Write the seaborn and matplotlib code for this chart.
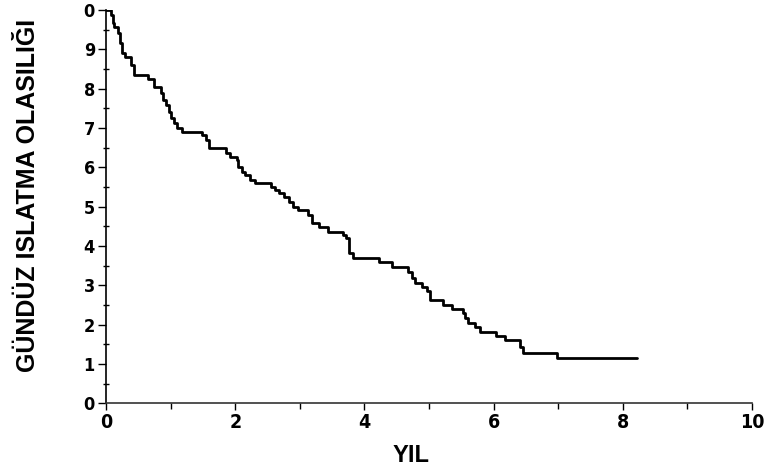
import numpy as np
import pandas as pd
import matplotlib
matplotlib.use("Agg")
import matplotlib.pyplot as plt
from matplotlib import font_manager
import seaborn as sns

# step-curve: event time (years) and level after the step
years = [0.00, 0.08, 0.11, 0.13, 0.19, 0.22, 0.25, 0.29, 0.39, 0.43,
         0.65, 0.75, 0.85, 0.88, 0.93, 0.98, 1.01, 1.05, 1.10, 1.17,
         1.48, 1.55, 1.60, 1.86, 1.92, 2.02, 2.04, 2.10, 2.15, 2.23,
         2.30, 2.56, 2.61, 2.68, 2.76, 2.84, 2.90, 2.97, 3.13, 3.19,
         3.29, 3.44, 3.67, 3.72, 3.76, 3.82, 4.22, 4.42, 4.68, 4.73,
         4.78, 4.89, 4.97, 5.01, 5.22, 5.35, 5.52, 5.56, 5.61, 5.71,
         5.79, 6.03, 6.18, 6.41, 6.46, 6.98, 8.22]
prob = [10.00, 9.87, 9.66, 9.58, 9.41, 9.15, 8.90, 8.81, 8.60, 8.35,
        8.24, 8.03, 7.88, 7.71, 7.58, 7.41, 7.25, 7.12, 6.99, 6.91,
        6.82, 6.69, 6.48, 6.36, 6.27, 6.19, 6.02, 5.89, 5.80, 5.68,
        5.59, 5.51, 5.42, 5.34, 5.25, 5.13, 5.00, 4.92, 4.79, 4.59,
        4.49, 4.36, 4.28, 4.20, 3.81, 3.69, 3.60, 3.47, 3.35, 3.18,
        3.05, 2.95, 2.86, 2.63, 2.50, 2.39, 2.29, 2.16, 2.05, 1.93,
        1.82, 1.71, 1.61, 1.44, 1.27, 1.14, 1.14]

x_ticks = [0, 2, 4, 6, 8, 10]
x_labels = ["0", "2", "4", "6", "8", "10"]
y_ticks = list(range(11))
y_labels = ["0", "1", "2", "3", "4", "5", "6", "7", "8", "9", "0"]

x_title = "YIL"
y_title = "GÜNDÜZ ISLATMA OLASILIĞI"

sns.set_style("ticks")
plt.rcParams["font.family"] = ["Liberation Sans", "DejaVu Sans"]
plt.rcParams["text.color"] = "black"
plt.rcParams["xtick.color"] = "black"
plt.rcParams["ytick.color"] = "black"
plt.rcParams["axes.edgecolor"] = "black"


def narrow_bold_font(size):
    """Use a condensed bold face for the digits if one is installed."""
    for f in font_manager.fontManager.ttflist:
        name = f.name.lower()
        if ("narrow" in name or "condensed" in name or f.stretch == "condensed") \
                and f.weight in ("bold", 700):
            return font_manager.FontProperties(fname=f.fname, size=size)
    return font_manager.FontProperties(family="Liberation Sans",
                                       weight="bold", size=size)


df = pd.DataFrame({"yil": years, "olasilik": prob})

fig = plt.figure(figsize=(7.65, 4.76), dpi=100)
ax = fig.add_axes([0.1386, 0.1527, 0.8444, 0.8263])

sns.lineplot(data=df, x="yil", y="olasilik", ax=ax, color="black",
             linewidth=2.0, drawstyle="steps-post", sort=False)

ax.set_xlim(0, 10)
ax.set_ylim(0, 10)
ax.set_xticks(x_ticks)
ax.set_xticklabels(x_labels)
ax.set_yticks(y_ticks)
ax.set_yticklabels(y_labels)
ax.set_xticks(np.arange(1, 10, 2), minor=True)
ax.set_yticks(np.arange(0.5, 10, 1), minor=True)

for lab in ax.get_xticklabels():
    lab.set_fontproperties(narrow_bold_font(14))
for lab in ax.get_yticklabels():
    lab.set_fontproperties(narrow_bold_font(13))

ax.tick_params(axis="x", which="major", direction="out", length=5,
               width=1, pad=2, colors="black")
ax.tick_params(axis="x", which="minor", direction="out", length=4, width=1)
ax.tick_params(axis="y", which="major", direction="out", length=6,
               width=1, pad=2, colors="black")
ax.tick_params(axis="y", which="minor", direction="inout", length=5, width=1)

sns.despine(ax=ax)
ax.spines["left"].set_linewidth(1.2)
ax.spines["bottom"].set_linewidth(1.2)
ax.spines["bottom"].set_color("#333333")

ax.set_xlabel("")
ax.set_ylabel("")
fig.text(411 / 765, 1 - 455 / 476, x_title, ha="center", va="center",
         fontsize=17, fontweight="bold", color="black")
fig.text(28 / 765, 1 - 195 / 476, y_title, ha="center", va="center",
         rotation=90, fontsize=18, fontweight="bold", color="black")

fig.savefig("out.png", dpi=100)
